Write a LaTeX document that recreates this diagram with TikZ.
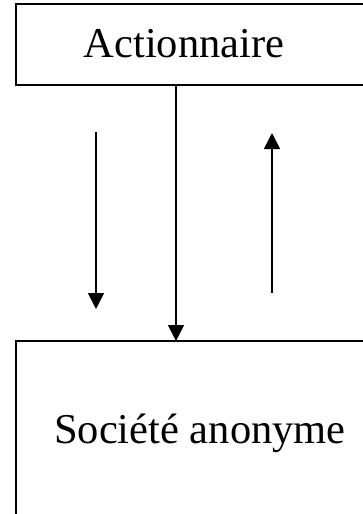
\documentclass[tikz,border=0pt]{standalone}
\usepackage{fontspec}
\setmainfont{Liberation Serif}
\usetikzlibrary{arrows.meta}
\begin{document}
\begin{tikzpicture}[x=1pt,y=-1pt,
  box/.style={draw,line width=1.5pt,rectangle,inner sep=0pt,outer sep=0pt,anchor=north west},
  lbl/.style={font=\fontsize{42.5}{50}\selectfont,inner sep=0pt,anchor=base},
  flow/.style={line width=1.5pt,-{Triangle[width=16pt 0,length=16pt 0]}}]
\useasboundingbox (0,0) rectangle (363,514);
\clip (0,0) rectangle (363,514);
% the two parties
\node[box,minimum width=380pt,minimum height=81pt] (top) at (16,4) {};
\node[box,minimum width=380pt,minimum height=230pt] (bottom) at (16,341) {};
\node[lbl] (t1) at (184,57) {Actionnaire};
\node[lbl] (t2) at (200,443) {Société anonyme};
% flows between them
\coordinate (mid) at (176,0);
\draw[flow] (top.south -| mid) -- (bottom.north -| mid);
\coordinate (a1) at (96,132);
\coordinate (a2) at (96,309);
\draw[flow] (a1) -- (a2);
\coordinate (b1) at (272,293);
\coordinate (b2) at (272,133);
\draw[flow] (b1) -- (b2);
\end{tikzpicture}
\end{document}
